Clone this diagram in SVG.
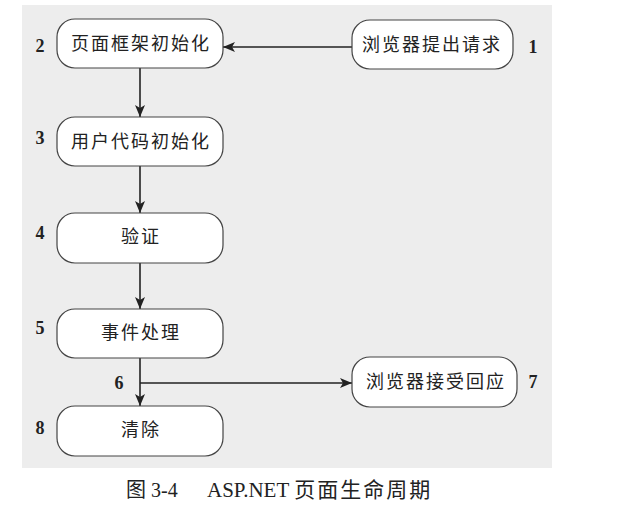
<svg xmlns="http://www.w3.org/2000/svg" width="636" height="526" viewBox="0 0 636 526">
<defs>
<marker id="arr" viewBox="0 0 12 10" refX="12" refY="5" markerWidth="12" markerHeight="10" markerUnits="userSpaceOnUse" orient="auto">
<path d="M0,0 L12,5 L0,10 L3,5 Z" fill="#222"/>
</marker>
<style>
.node rect{fill:#fff;stroke:#444;stroke-width:1.2}
.node text{font-family:"Liberation Serif","Noto Sans CJK SC",serif;font-size:18px;fill:#222;text-anchor:middle;dominant-baseline:central;letter-spacing:2px}
.num{font-family:"Liberation Serif",serif;font-weight:bold;font-size:18px;fill:#222;text-anchor:middle;dominant-baseline:central}
.conn path{fill:none;stroke:#222;stroke-width:1.6}
.cap{font-family:"Liberation Serif","Noto Sans CJK SC",serif;font-size:20px;fill:#222}
</style>
</defs>
<rect x="22" y="5" width="530" height="463" fill="#ededed"/>
<g class="conn">
<path d="M352,47 L223,47" marker-end="url(#arr)"/>
<path d="M140,68 L140,117" marker-end="url(#arr)"/>
<path d="M140,166 L140,213" marker-end="url(#arr)"/>
<path d="M140,263 L140,309" marker-end="url(#arr)"/>
<path d="M140,358 L140,406" marker-end="url(#arr)"/>
<path d="M140,383 L352,383" marker-end="url(#arr)"/>
</g>
<g id="n1" class="node"><rect x="352" y="20" width="161" height="49" rx="18"/><text x="432" y="45">浏览器提出请求</text></g>
<g id="n2" class="node"><rect x="57" y="19" width="166" height="49" rx="18"/><text x="141" y="44">页面框架初始化</text></g>
<g id="n3" class="node"><rect x="57" y="117" width="166" height="49" rx="18"/><text x="141" y="142">用户代码初始化</text></g>
<g id="n4" class="node"><rect x="57" y="213" width="166" height="50" rx="18"/><text x="141" y="237">验证</text></g>
<g id="n5" class="node"><rect x="57" y="309" width="166" height="49" rx="18"/><text x="141" y="333">事件处理</text></g>
<g id="n7" class="node"><rect x="352" y="357" width="165" height="50" rx="18"/><text x="436" y="382">浏览器接受回应</text></g>
<g id="n8" class="node"><rect x="57" y="406" width="166" height="50" rx="18"/><text x="141" y="430">清除</text></g>
<g id="labels">
<text class="num" x="533" y="47">1</text>
<text class="num" x="40" y="46">2</text>
<text class="num" x="40" y="138">3</text>
<text class="num" x="40" y="233">4</text>
<text class="num" x="40" y="328">5</text>
<text class="num" x="119" y="383">6</text>
<text class="num" x="533" y="382">7</text>
<text class="num" x="40" y="428">8</text>
</g>
<text class="cap" x="126" y="497">图 3-4</text>
<text class="cap" x="207" y="497" style="font-size:21px">ASP.NET <tspan letter-spacing="2">页面生命周期</tspan></text>
</svg>
